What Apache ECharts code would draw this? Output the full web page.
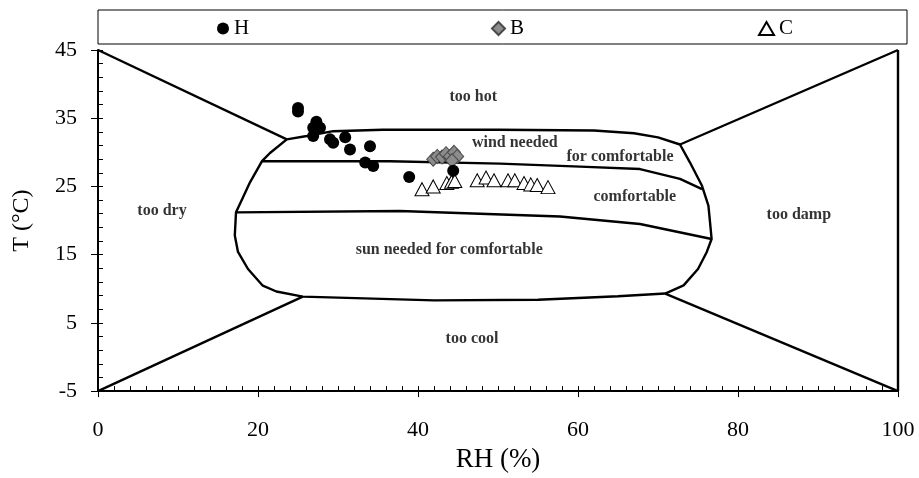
<!DOCTYPE html>
<html>
<head>
<meta charset="utf-8">
<script src="https://cdn.jsdelivr.net/npm/echarts@6/dist/echarts.min.js"></script>
<style>
  html, body { margin: 0; padding: 0; background: #fff; }
  #chart { width: 919px; height: 478px; }
</style>
</head>
<body>
<div id="chart"></div>
<script>
// Measured points: relative humidity (%) and air temperature (°C)
var seriesH = [
  [25.0, 36.5], [25.0, 36.0], [27.3, 34.5], [26.9, 33.6], [27.75, 33.6],
  [26.9, 32.4], [29.0, 31.9], [29.4, 31.4], [30.9, 32.2], [31.5, 30.4],
  [34.0, 30.9], [33.4, 28.5], [34.4, 28.0], [38.9, 26.4], [44.4, 27.3]
];
var seriesB = [
  [41.9, 29.0], [42.4, 29.4], [43.0, 29.3], [43.5, 29.8],
  [44.0, 29.4], [44.5, 30.0], [44.9, 29.4], [44.25, 28.8]
];
var seriesC = [
  [40.5, 24.6], [41.9, 25.0], [43.6, 25.5], [44.2, 25.7], [44.6, 25.8],
  [47.4, 25.9], [48.5, 26.3], [49.5, 25.9], [51.25, 25.9], [52.1, 25.9],
  [53.25, 25.5], [54.1, 25.3], [54.9, 25.2], [56.25, 24.9]
];

// Bioclimatic chart boundaries (RH, T)
var diagTopLeft = [[0, 45], [23.6, 31.9]];
var diagBottomLeft = [[0, -5], [25.6, 8.85]];
var diagTopRight = [[100, 45], [72.75, 31.15]];
var diagBottomRight = [[100, -5], [70.9, 9.3]];
var rightEdge = [[100, -5], [100, 45]];
var comfortOutline = [
  [23.6, 31.9], [26.1, 32.4], [29.4, 33.1], [35.6, 33.3], [50, 33.3],
  [62, 33.2], [67, 32.8], [70, 32.2], [72.75, 31.15],
  [74.0, 28.5], [75.5, 25.1], [76.3, 22.2], [76.5, 19.8], [76.7, 17.3],
  [76.1, 15.4], [75.0, 12.9], [73.2, 10.5], [70.9, 9.3],
  [65, 8.9], [55, 8.4], [42, 8.3], [30, 8.7], [25.6, 8.85],
  [22.3, 9.6], [20.6, 10.45], [18.75, 12.9], [17.5, 15.4], [17.1, 17.8],
  [17.25, 21.2], [18.0, 23.1], [19.0, 25.6], [20.5, 28.7], [21.5, 29.9],
  [23.6, 31.9]
];
var windLine = [
  [20.5, 28.7], [36.5, 28.7], [50.25, 28.35], [60.25, 27.9],
  [67.75, 27.55], [72.75, 26.1], [75.5, 24.6]
];
var sunLine = [
  [17.25, 21.2], [37.75, 21.4], [57.75, 20.6], [67.75, 19.5], [76.7, 17.3]
];

// Zone captions and their anchor points
var zoneNames = ['too hot', 'wind needed', 'for comfortable', 'comfortable',
  'too dry', 'too damp', 'sun needed for comfortable', 'too cool'];
var zoneX = [46.9, 52.1, 65.25, 67.1, 8.0, 87.6, 43.9, 46.75];
var zoneY = [38.15, 31.45, 29.4, 23.4, 21.4, 20.8, 15.7, 2.6];

var xTicks = [0, 20, 40, 60, 80, 100];
var yTicks = [-5, 5, 15, 25, 35, 45];

var serif = '"Liberation Serif", "Times New Roman", serif';
var chart = echarts.init(document.getElementById('chart'));

function boundary(data) {
  return {
    type: 'line', data: data, symbol: 'none', silent: true,
    xAxisIndex: 0, yAxisIndex: 0,
    lineStyle: { color: '#000', width: 2.4 }, z: 2
  };
}

var zoneData = zoneNames.map(function (n, i) { return [zoneX[i], zoneY[i], n]; });

var baseX = {
  type: 'value', min: xTicks[0], max: xTicks[xTicks.length - 1], interval: 20,
  splitLine: { show: false }
};
var baseY = {
  type: 'value', min: yTicks[0], max: yTicks[yTicks.length - 1], interval: 10,
  splitLine: { show: false }
};
var legendText = { fontFamily: serif, fontSize: 21, color: '#000' };

chart.setOption({
  animation: false,
  backgroundColor: '#fff',
  grid: { left: 98, right: 21, top: 50, bottom: 85, containLabel: false },
  graphic: [{
    type: 'rect', shape: { x: 98, y: 10, width: 809, height: 34 },
    style: { fill: '#fff', stroke: '#000', lineWidth: 1 }, z: -1
  }],
  legend: [
    { data: ['H'], left: 212, top: 13, itemWidth: 12, itemHeight: 13, itemGap: 4,
      textStyle: legendText },
    { data: ['B'], left: 486, top: 13, itemWidth: 13, itemHeight: 13,
      textStyle: legendText },
    { data: ['C'], left: 753, top: 13, itemWidth: 15, itemHeight: 13,
      textStyle: legendText }
  ],
  xAxis: [
    Object.assign({}, baseX, {
      name: 'RH (%)', nameLocation: 'middle', nameGap: 53,
      nameTextStyle: { fontFamily: serif, fontSize: 27, color: '#000' },
      axisLine: { onZero: false, lineStyle: { color: '#000', width: 2 } },
      axisTick: { inside: true, length: 5, lineStyle: { color: '#000', width: 1 } },
      minorTick: { show: true, splitNumber: 10, length: 5, lineStyle: { color: '#000', width: 1 } },
      axisLabel: { margin: 28, fontFamily: serif, fontSize: 22, color: '#000' }
    }),
    Object.assign({}, baseX, {
      position: 'bottom',
      axisLine: { show: false, onZero: false },
      axisTick: { inside: false, length: 6, lineStyle: { color: '#000', width: 1 } },
      axisLabel: { show: false }
    })
  ],
  yAxis: [
    Object.assign({}, baseY, {
      name: 'T (°C)', nameLocation: 'middle', nameGap: 64,
      nameTextStyle: { fontFamily: serif, fontSize: 24, color: '#000' },
      axisLine: { onZero: false, lineStyle: { color: '#000', width: 2 } },
      axisTick: { inside: true, length: 5, lineStyle: { color: '#000', width: 1 } },
      minorTick: { show: true, splitNumber: 5, length: 5, lineStyle: { color: '#000', width: 1 } },
      axisLabel: { margin: 21, fontFamily: serif, fontSize: 22, color: '#000' }
    }),
    Object.assign({}, baseY, {
      position: 'left',
      axisLine: { show: false, onZero: false },
      axisTick: { inside: false, length: 7, lineStyle: { color: '#000', width: 1 } },
      axisLabel: { show: false }
    })
  ],
  series: [
    boundary(diagTopLeft),
    boundary(diagBottomLeft),
    boundary(diagTopRight),
    boundary(diagBottomRight),
    boundary(rightEdge),
    boundary(comfortOutline),
    boundary(windLine),
    boundary(sunLine),
    {
      type: 'scatter', data: zoneData, symbolSize: 0, silent: true, z: 3,
      label: {
        show: true, position: 'inside',
        formatter: function (p) { return p.data[2]; },
        fontFamily: serif, fontWeight: 'bold', fontSize: 16, color: '#000'
      }
    },
    {
      name: 'H', type: 'scatter', data: seriesH, symbol: 'circle', symbolSize: 12,
      itemStyle: { color: '#000', opacity: 1 }, z: 5
    },
    {
      name: 'B', type: 'scatter', data: seriesB, symbol: 'diamond', symbolSize: [13, 14],
      itemStyle: { color: '#8c8c8c', borderColor: '#4a4a4a', borderWidth: 1, opacity: 1 }, z: 4
    },
    {
      name: 'C', type: 'scatter', data: seriesC, symbol: 'triangle', symbolSize: [14, 13],
      itemStyle: { color: '#fff', borderColor: '#000', borderWidth: 1, opacity: 1 }, z: 4
    }
  ]
});
</script>
</body>
</html>
